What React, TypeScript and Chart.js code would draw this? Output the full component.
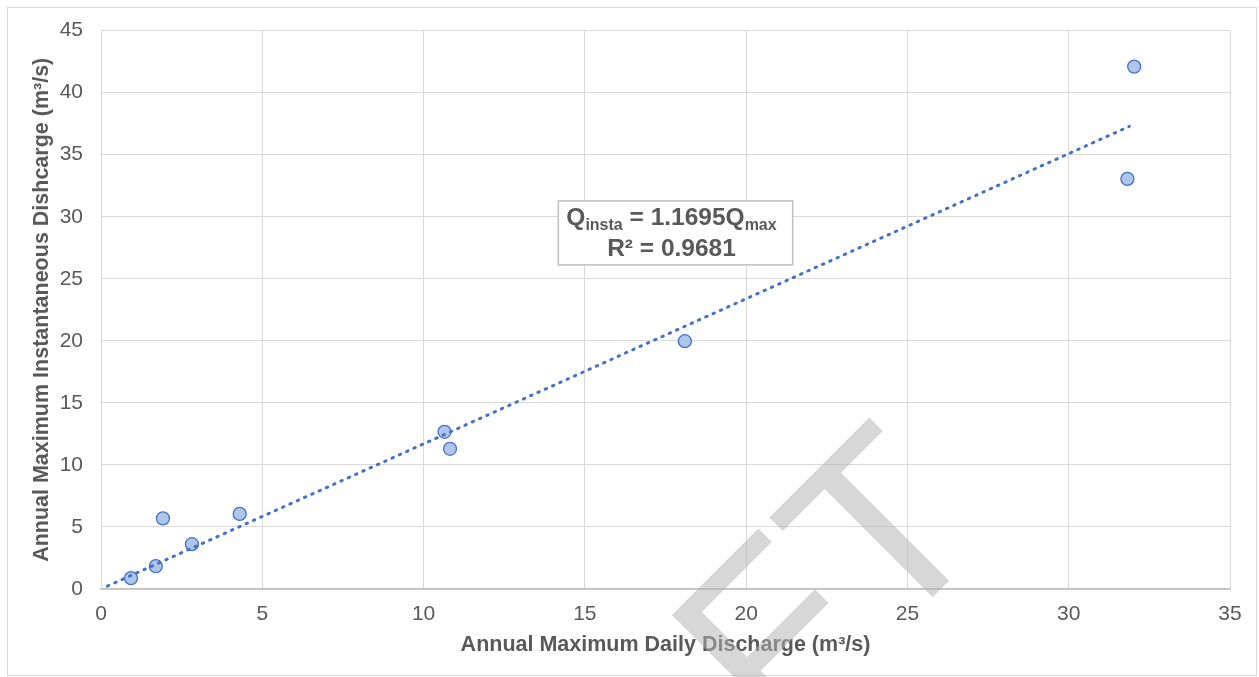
import React, { useEffect, useRef } from "react";
import { Chart, registerables } from "chart.js";

Chart.register(...registerables);

// Annual maximum daily discharge (m³/s) – x values
const dailyMax = [0.93, 1.7, 1.92, 2.82, 4.3, 10.65, 10.82, 18.1, 31.82, 32.03];
// Annual maximum instantaneous discharge (m³/s) – y values
const instMax = [0.88, 1.84, 5.69, 3.61, 6.05, 12.67, 11.3, 19.97, 33.05, 42.1];

// Linear trend line through origin (from the chart's equation)
const trendSlope = 1.1695;
const trendRange = [0.2, 31.88];

const xTicks = [0, 5, 10, 15, 20, 25, 30, 35];
const yTicks = [0, 5, 10, 15, 20, 25, 30, 35, 40, 45];

const xTitle = "Annual Maximum Daily Discharge (m³/s)";
const yTitle = "Annual Maximum Instantaneous Dishcarge (m³/s)";
const eqLine1 = [
  { t: "Q", sub: false },
  { t: "insta", sub: true },
  { t: " = 1.1695Q", sub: false },
  { t: "max", sub: true },
];
const eqLine2 = "R² = 0.9681";
const eqCenter = [17.81, 28.7]; // data units
const watermark = "DRAFT";

const FONT = '"Liberation Sans", Arial, sans-serif';
const TEXT = "#595959";

const framePlugin = {
  id: "frame",
  beforeDraw(chart: any) {
    const { ctx, width, height } = chart;
    ctx.save();
    ctx.fillStyle = "#ffffff";
    ctx.fillRect(0, 0, width, height);
    ctx.strokeStyle = "#d9d9d9";
    ctx.lineWidth = 1;
    ctx.strokeRect(7.5, 7.5, width - 10, height - 9);
    ctx.restore();
  },
};

const eqPlugin = {
  id: "eqBox",
  afterDatasetsDraw(chart: any) {
    const { ctx, scales } = chart;
    const cx = scales.x.getPixelForValue(eqCenter[0]);
    const cy = scales.y.getPixelForValue(eqCenter[1]);
    const mainFont = `bold 24.5px ${FONT}`;
    const subFont = `bold 16px ${FONT}`;
    ctx.save();
    let w1 = 0;
    const widths = eqLine1.map((p) => {
      ctx.font = p.sub ? subFont : mainFont;
      const w = ctx.measureText(p.t).width;
      w1 += w;
      return w;
    });
    ctx.font = mainFont;
    const w2 = ctx.measureText(eqLine2).width;
    const bw = Math.max(w1, w2) + 24;
    const bh = 64;
    ctx.fillStyle = "#ffffff";
    ctx.fillRect(cx - bw / 2, cy - bh / 2, bw, bh);
    ctx.strokeStyle = "#bfbfbf";
    ctx.lineWidth = 1.5;
    ctx.strokeRect(cx - bw / 2, cy - bh / 2, bw, bh);
    ctx.fillStyle = TEXT;
    ctx.textBaseline = "alphabetic";
    ctx.textAlign = "left";
    let xx = cx - 4 - w1 / 2;
    const base1 = cy - 8;
    eqLine1.forEach((p, i) => {
      ctx.font = p.sub ? subFont : mainFont;
      ctx.fillText(p.t, xx, p.sub ? base1 + 5 : base1);
      xx += widths[i];
    });
    ctx.font = mainFont;
    ctx.textAlign = "center";
    ctx.fillText(eqLine2, cx - 4, cy + 23);
    ctx.restore();
  },
};

const watermarkPlugin = {
  id: "watermark",
  afterDraw(chart: any) {
    const { ctx } = chart;
    ctx.save();
    ctx.translate(995, 535);
    ctx.rotate(-Math.PI / 4);
    ctx.font = `250px ${FONT}`;
    ctx.textAlign = "right";
    ctx.textBaseline = "alphabetic";
    ctx.fillStyle = "rgba(178,178,178,0.52)";
    ctx.fillText(watermark, 0, 0);
    ctx.restore();
  },
};

export default function App() {
  const ref = useRef<HTMLCanvasElement | null>(null);

  useEffect(() => {
    if (!ref.current) return;
    const points = dailyMax.map((x, i) => ({ x, y: instMax[i] }));
    const trend = trendRange.map((x) => ({ x, y: trendSlope * x }));
    const chart = new Chart(ref.current, {
      type: "scatter",
      data: {
        datasets: [
          {
            type: "line",
            data: trend,
            borderColor: "#4472c4",
            borderWidth: 3,
            borderDash: [1.5, 6.5],
            borderCapStyle: "round",
            pointRadius: 0,
            fill: false,
          } as any,
          {
            data: points,
            pointRadius: 6.5,
            pointBackgroundColor: "#aec6ec",
            pointBorderColor: "#4472c4",
            pointBorderWidth: 1.3,
          },
        ],
      },
      options: {
        animation: false,
        responsive: false,
        devicePixelRatio: 1,
        layout: { padding: { top: 28, right: 29, bottom: 10, left: 0 } },
        plugins: {
          legend: { display: false },
          tooltip: { enabled: false },
        },
        scales: {
          x: {
            type: "linear",
            min: 0,
            max: 35,
            afterFit: (s: any) => {
              s.height = 78;
            },
            afterBuildTicks: (s: any) => {
              s.ticks = xTicks.map((v) => ({ value: v }));
            },
            grid: { color: "#d9d9d9", lineWidth: 1, drawTicks: false },
            border: { color: "#bfbfbf", width: 1.5 },
            ticks: {
              padding: 13,
              color: TEXT,
              font: { family: FONT, size: 21 },
              maxRotation: 0,
            },
            title: {
              display: true,
              text: xTitle,
              color: TEXT,
              font: { family: FONT, size: 21.5, weight: "bold" },
              padding: { top: 0, bottom: 9.2 },
            },
          },
          y: {
            type: "linear",
            min: 0,
            max: 45,
            afterFit: (s: any) => {
              s.width = 101;
            },
            afterBuildTicks: (s: any) => {
              s.ticks = yTicks.map((v) => ({ value: v }));
            },
            grid: { color: "#d9d9d9", lineWidth: 1, drawTicks: false },
            border: { color: "#d9d9d9", width: 1 },
            ticks: {
              padding: 18,
              color: TEXT,
              font: { family: FONT, size: 21 },
            },
            title: {
              display: true,
              text: yTitle,
              color: TEXT,
              font: { family: FONT, size: 21.5, weight: "bold" },
              padding: { top: 28.7, bottom: 0 },
            },
          },
        },
      },
      plugins: [framePlugin, eqPlugin, watermarkPlugin],
    });
    return () => chart.destroy();
  }, []);

  return (
    <div style={{ position: "fixed", left: 0, top: 0, width: 1259, height: 677 }}>
      <canvas ref={ref} width={1259} height={677} style={{ display: "block" }} />
    </div>
  );
}
